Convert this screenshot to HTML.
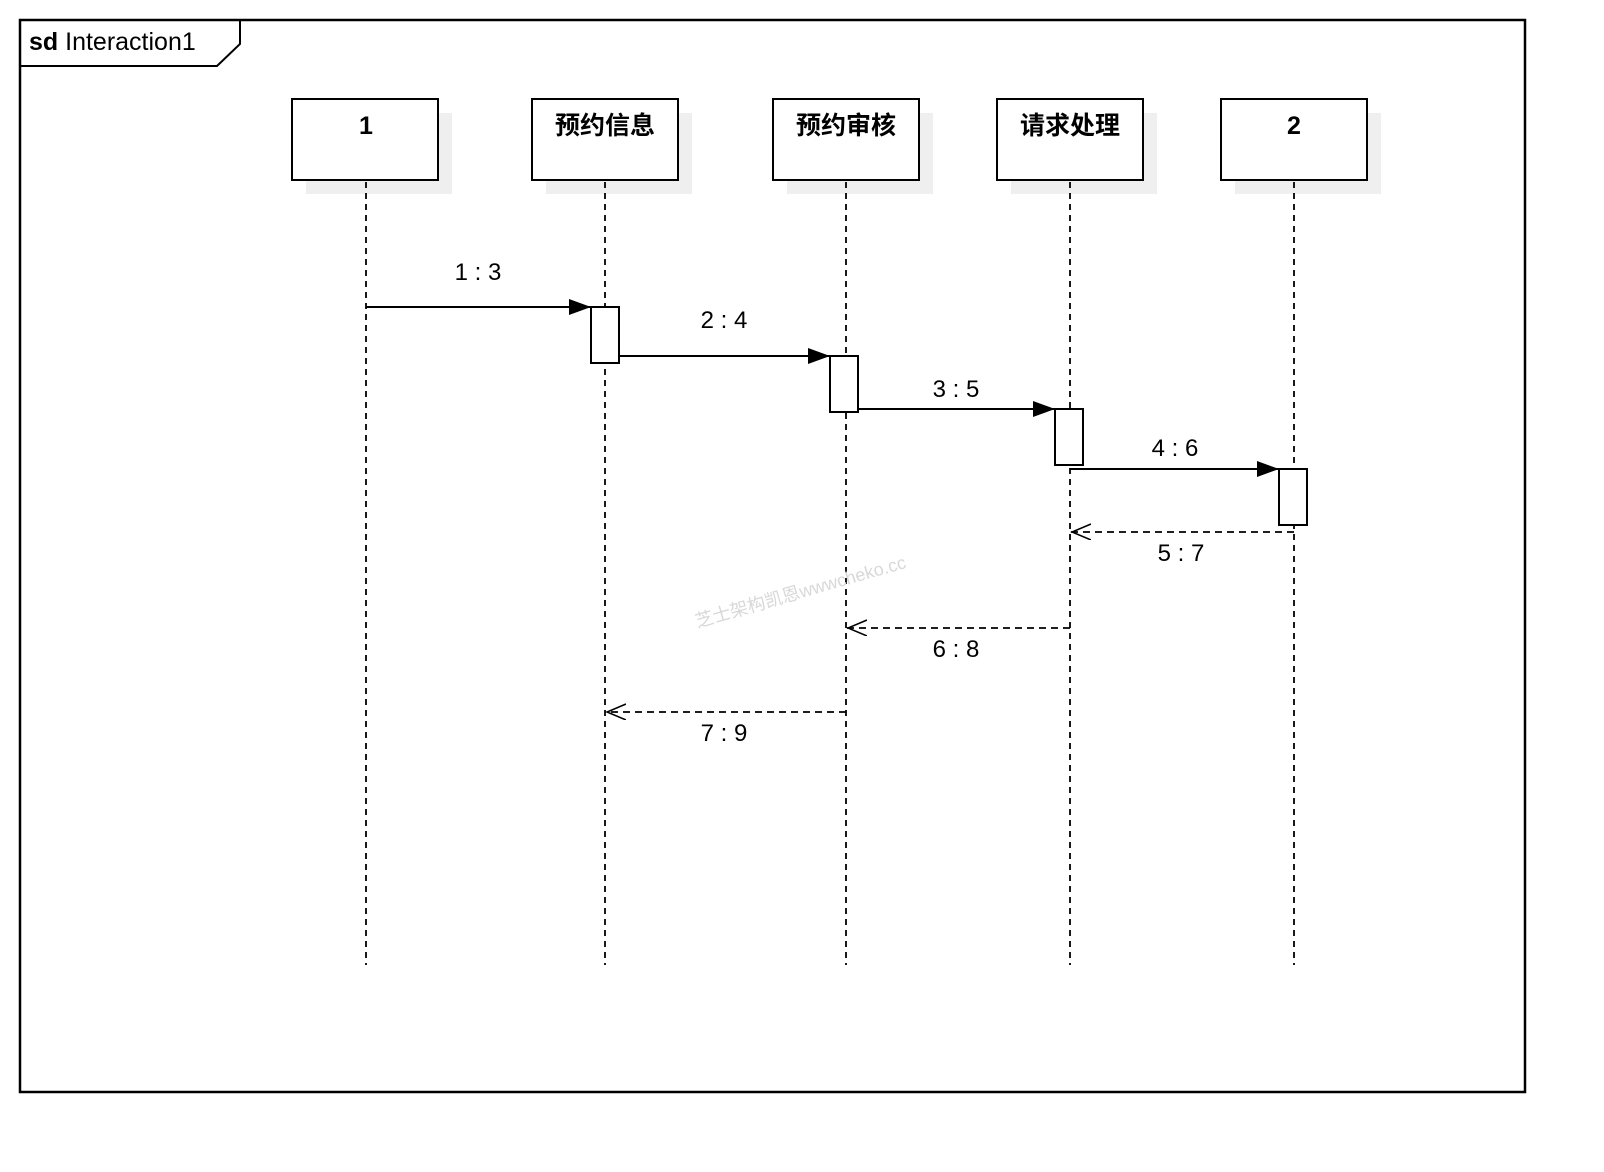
<!DOCTYPE html>
<html><head><meta charset="utf-8"><style>body{margin:0;background:#fff}svg{display:block}</style></head><body>
<svg width="1604" height="1172" viewBox="0 0 1604 1172" xmlns="http://www.w3.org/2000/svg" font-family="'Liberation Sans','Noto Sans CJK SC',sans-serif">
<defs>
<marker id="f" markerWidth="22" markerHeight="16" refX="22" refY="8" orient="auto" markerUnits="userSpaceOnUse"><path d="M0,0 L22,8 L0,16 Z" fill="#000"/></marker>
<marker id="o" markerWidth="22" markerHeight="18" refX="20" refY="8" orient="auto" markerUnits="userSpaceOnUse"><path d="M0,0 L19,8 L0,16" fill="none" stroke="#000" stroke-width="1.5"/></marker>
</defs>
<rect x="20" y="20" width="1505" height="1072" fill="none" stroke="#000" stroke-width="2.5"/>
<path d="M20,66 L217,66 L240,44 L240,20" fill="none" stroke="#000" stroke-width="2"/>
<text x="29" y="50" font-size="25"><tspan font-weight="bold">sd</tspan> Interaction1</text>
<g fill="#efefef">
<rect x="306" y="113" width="146" height="81"/><rect x="546" y="113" width="146" height="81"/><rect x="787" y="113" width="146" height="81"/><rect x="1011" y="113" width="146" height="81"/><rect x="1235" y="113" width="146" height="81"/>
</g>
<g fill="#fff" stroke="#000" stroke-width="2">
<rect x="292" y="99" width="146" height="81"/><rect x="532" y="99" width="146" height="81"/><rect x="773" y="99" width="146" height="81"/><rect x="997" y="99" width="146" height="81"/><rect x="1221" y="99" width="146" height="81"/>
</g>
<g font-size="25" font-weight="bold" text-anchor="middle">
<text x="366" y="134">1</text><text x="605" y="134">预约信息</text><text x="846" y="134">预约审核</text><text x="1070" y="134">请求处理</text><text x="1294" y="134">2</text>
</g>
<g stroke="#000" stroke-width="1.8" stroke-dasharray="6,5">
<line x1="366" y1="182" x2="366" y2="965"/><line x1="605" y1="182" x2="605" y2="965"/><line x1="846" y1="182" x2="846" y2="965"/><line x1="1070" y1="182" x2="1070" y2="965"/><line x1="1294" y1="182" x2="1294" y2="965"/>
</g>
<text x="800" y="598" font-size="18" fill="#d8d8d8" text-anchor="middle" transform="rotate(-16 800 590)">芝士架构凯恩wwwcheko.cc</text>
<g stroke="#000" stroke-width="2">
<line x1="366" y1="307" x2="591" y2="307" marker-end="url(#f)"/>
<line x1="619" y1="356" x2="830" y2="356" marker-end="url(#f)"/>
<line x1="858" y1="409" x2="1055" y2="409" marker-end="url(#f)"/>
<line x1="1070" y1="469" x2="1279" y2="469" marker-end="url(#f)"/>
</g>
<g fill="#fff" stroke="#000" stroke-width="2">
<rect x="591" y="307" width="28" height="56"/><rect x="830" y="356" width="28" height="56"/><rect x="1055" y="409" width="28" height="56"/><rect x="1279" y="469" width="28" height="56"/>
</g>
<g stroke="#000" stroke-width="1.8" stroke-dasharray="7,5" fill="none">
<line x1="1294" y1="532" x2="1071" y2="532" marker-end="url(#o)"/>
<line x1="1070" y1="628" x2="847" y2="628" marker-end="url(#o)"/>
<line x1="846" y1="712" x2="606" y2="712" marker-end="url(#o)"/>
</g>
<g font-size="24" text-anchor="middle">
<text x="478" y="280">1 : 3</text><text x="724" y="328">2 : 4</text><text x="956" y="397">3 : 5</text><text x="1175" y="456">4 : 6</text><text x="1181" y="561">5 : 7</text><text x="956" y="657">6 : 8</text><text x="724" y="741">7 : 9</text>
</g>
</svg>
</body></html>
